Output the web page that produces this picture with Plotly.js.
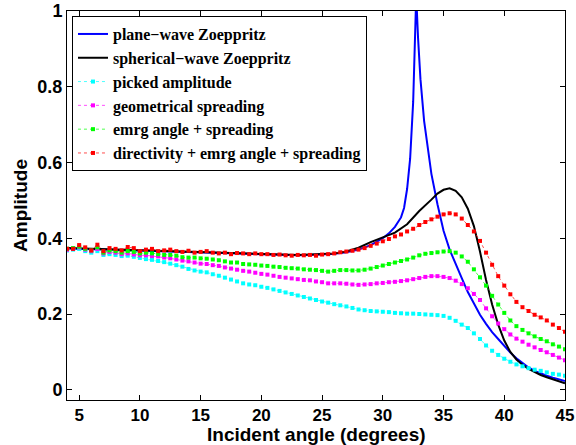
<!DOCTYPE html>
<html>
<head>
<meta charset="utf-8">
<script src="https://cdn.plot.ly/plotly-3.0.1.min.js"></script>
<style>
html,body{margin:0;padding:0;background:#fff;}
#chart{width:576px;height:445px;}
</style>
</head>
<body>
<div id="chart"></div>
<script>
// Angles for the solid curves
const anglesPlane = [4,5,6,7,8,9,10,11,12,13,14,15,16,17,18,19,20,21,22,23,24,25,26,27,28,29,30,30.5,31,31.5,31.75,32,32.25,32.5,32.65,32.75,32.9,33.1,33.4,33.75,34,34.5,35,35.5,36,36.5,37,37.5,38,38.5,39,39.5,40,40.5,41,41.5,42,42.5,43,43.5,44,44.5,45];
const planeWave = [0.373,0.372,0.371,0.370,0.369,0.368,0.367,0.366,0.365,0.364,0.363,0.362,0.361,0.360,0.359,0.358,0.357,0.356,0.355,0.355,0.356,0.357,0.359,0.363,0.370,0.382,0.400,0.413,0.430,0.455,0.480,0.530,0.610,0.760,0.920,1.040,0.930,0.820,0.710,0.620,0.570,0.490,0.420,0.370,0.330,0.295,0.258,0.227,0.198,0.174,0.152,0.134,0.115,0.098,0.083,0.070,0.059,0.050,0.043,0.037,0.032,0.027,0.023];

const anglesSpherical = [4,5,6,7,8,9,10,11,12,13,14,15,16,17,18,19,20,21,22,23,24,25,26,27,28,29,30,31,32,33,34,34.5,35,35.5,36,36.5,37,37.5,38,38.5,39,39.5,40,40.5,41,41.5,42,42.5,43,43.5,44,44.5,45];
const sphericalWave = [0.374,0.373,0.372,0.371,0.370,0.369,0.368,0.367,0.366,0.365,0.364,0.363,0.362,0.361,0.360,0.359,0.358,0.357,0.356,0.356,0.357,0.358,0.360,0.365,0.375,0.390,0.403,0.415,0.437,0.472,0.502,0.518,0.528,0.532,0.525,0.508,0.478,0.432,0.365,0.290,0.225,0.172,0.130,0.100,0.080,0.066,0.055,0.046,0.039,0.033,0.027,0.022,0.017];

// Angles for the picked / corrected amplitudes
const anglesPicked = [4,4.5,5,5.5,6,6.5,7,7.5,8,8.5,9,9.5,10,10.5,11,11.5,12,12.5,13,13.5,14,14.5,15,15.5,16,16.5,17,17.5,18,18.5,19,19.5,20,20.5,21,21.5,22,22.5,23,23.5,24,24.5,25,25.5,26,26.5,27,27.5,28,28.5,29,29.5,30,30.5,31,31.5,32,32.5,33,33.5,34,34.5,35,35.5,36,36.5,37,37.5,38,38.5,39,39.5,40,40.5,41,41.5,42,42.5,43,43.5,44,44.5,45];

const pickedAmp = [0.368,0.370,0.372,0.366,0.362,0.366,0.356,0.358,0.356,0.353,0.354,0.351,0.348,0.345,0.343,0.340,0.337,0.333,0.329,0.325,0.319,0.315,0.312,0.310,0.305,0.301,0.296,0.291,0.286,0.281,0.278,0.276,0.272,0.269,0.265,0.261,0.257,0.253,0.249,0.245,0.241,0.237,0.233,0.230,0.226,0.223,0.220,0.216,0.212,0.210,0.208,0.207,0.206,0.205,0.203,0.202,0.201,0.201,0.200,0.199,0.198,0.197,0.195,0.190,0.182,0.172,0.163,0.149,0.134,0.117,0.103,0.092,0.082,0.074,0.067,0.062,0.057,0.053,0.050,0.046,0.042,0.040,0.037];

const geomSpreading = [0.370,0.372,0.376,0.370,0.366,0.372,0.360,0.364,0.362,0.358,0.360,0.357,0.355,0.355,0.353,0.352,0.349,0.347,0.344,0.341,0.339,0.336,0.333,0.332,0.329,0.327,0.323,0.320,0.317,0.314,0.312,0.309,0.306,0.304,0.301,0.298,0.296,0.294,0.292,0.290,0.289,0.286,0.284,0.281,0.281,0.281,0.280,0.278,0.277,0.278,0.279,0.281,0.282,0.284,0.285,0.287,0.289,0.292,0.295,0.298,0.300,0.300,0.298,0.295,0.288,0.279,0.268,0.253,0.237,0.215,0.194,0.175,0.160,0.146,0.135,0.127,0.119,0.112,0.105,0.099,0.092,0.085,0.078];

const emrgSpreading = [0.372,0.374,0.378,0.372,0.368,0.376,0.362,0.368,0.366,0.362,0.366,0.364,0.360,0.362,0.360,0.358,0.356,0.356,0.354,0.350,0.349,0.349,0.347,0.346,0.344,0.342,0.339,0.336,0.336,0.332,0.331,0.330,0.328,0.327,0.325,0.324,0.322,0.321,0.320,0.318,0.317,0.316,0.314,0.312,0.314,0.316,0.316,0.315,0.315,0.317,0.320,0.324,0.328,0.332,0.336,0.340,0.344,0.349,0.355,0.359,0.361,0.363,0.365,0.366,0.362,0.352,0.338,0.318,0.297,0.275,0.248,0.225,0.203,0.183,0.168,0.158,0.149,0.141,0.134,0.128,0.120,0.114,0.107];

const directivity = [0.372,0.372,0.382,0.376,0.368,0.383,0.366,0.374,0.372,0.368,0.377,0.374,0.366,0.370,0.372,0.366,0.368,0.370,0.366,0.364,0.367,0.362,0.364,0.366,0.362,0.360,0.362,0.358,0.361,0.360,0.358,0.360,0.358,0.358,0.356,0.357,0.355,0.354,0.356,0.355,0.356,0.354,0.357,0.358,0.360,0.363,0.365,0.367,0.370,0.374,0.380,0.386,0.392,0.398,0.405,0.410,0.418,0.425,0.435,0.443,0.450,0.457,0.463,0.466,0.463,0.452,0.435,0.418,0.393,0.362,0.330,0.300,0.275,0.252,0.232,0.218,0.208,0.198,0.191,0.183,0.172,0.163,0.153];

const seriesNames = ['plane\u2212wave Zoeppritz','spherical\u2212wave Zoeppritz','picked amplitude','geometrical spreading','emrg angle + spreading','directivity + emrg angle + spreading'];
const xTicks = [5,10,15,20,25,30,35,40,45];
const yTicks = [0,0.2,0.4,0.6,0.8,1];
const yTickText = ['0','0.2','0.4','0.6','0.8','1'];

function dotted(x, y, name, color){
  return {x:x, y:y, name:name, type:'scatter', mode:'lines+markers',
    line:{color:color, width:0.7, dash:'dot'},
    marker:{color:color, size:4, symbol:'square'}};
}

const traces = [
  {x:anglesPlane, y:planeWave, name:seriesNames[0], type:'scatter', mode:'lines', line:{color:'#0000ff', width:2}},
  {x:anglesSpherical, y:sphericalWave, name:seriesNames[1], type:'scatter', mode:'lines', line:{color:'#000000', width:2}},
  dotted(anglesPicked, pickedAmp, seriesNames[2], '#00ffff'),
  dotted(anglesPicked, geomSpreading, seriesNames[3], '#ff00ff'),
  dotted(anglesPicked, emrgSpreading, seriesNames[4], '#00ff00'),
  dotted(anglesPicked, directivity, seriesNames[5], '#ff0000')
];

const tickFont = {family:'Liberation Sans, Arial, sans-serif', size:17, color:'#000', weight:'bold'};
const yTickFont = {family:'Liberation Sans, Arial, sans-serif', size:18, color:'#000', weight:'bold'};
const titleFont = {family:'Liberation Sans, Arial, sans-serif', size:19, color:'#000', weight:'bold'};

const layout = {
  width:576, height:445,
  margin:{l:67, r:11, t:11, b:45, pad:0},
  paper_bgcolor:'#fff', plot_bgcolor:'#fff',
  showlegend:true,
  xaxis:{range:[4,45], tickvals:xTicks, ticks:'inside', ticklen:5, tickcolor:'#000',
    showline:true, linecolor:'#000', linewidth:1, mirror:'ticks', showgrid:false, zeroline:false,
    tickfont:tickFont, automargin:false},
  yaxis:{range:[-0.027,1.0], tickvals:yTicks, ticktext:yTickText, ticks:'inside', ticklen:5, tickcolor:'#000',
    showline:true, linecolor:'#000', linewidth:1, mirror:'ticks', showgrid:false, zeroline:false,
    tickfont:yTickFont, automargin:false,
    title:{text:'Amplitude', font:titleFont, standoff:4}},
  annotations:[{text:'Incident angle (degrees)', xref:'paper', yref:'paper', x:0.5, y:-0.058, xanchor:'center', yanchor:'top',
    showarrow:false, font:titleFont, borderpad:0}],
  legend:{x:0.01, y:0.987, xanchor:'left', yanchor:'top', bgcolor:'#fff', bordercolor:'#000', borderwidth:1,
    font:{family:'Liberation Serif, Times New Roman, serif', size:16, color:'#000', weight:'bold'},
    tracegroupgap:0, itemwidth:30}
};

Plotly.newPlot('chart', traces, layout, {displayModeBar:false, staticPlot:true});
</script>
</body>
</html>
